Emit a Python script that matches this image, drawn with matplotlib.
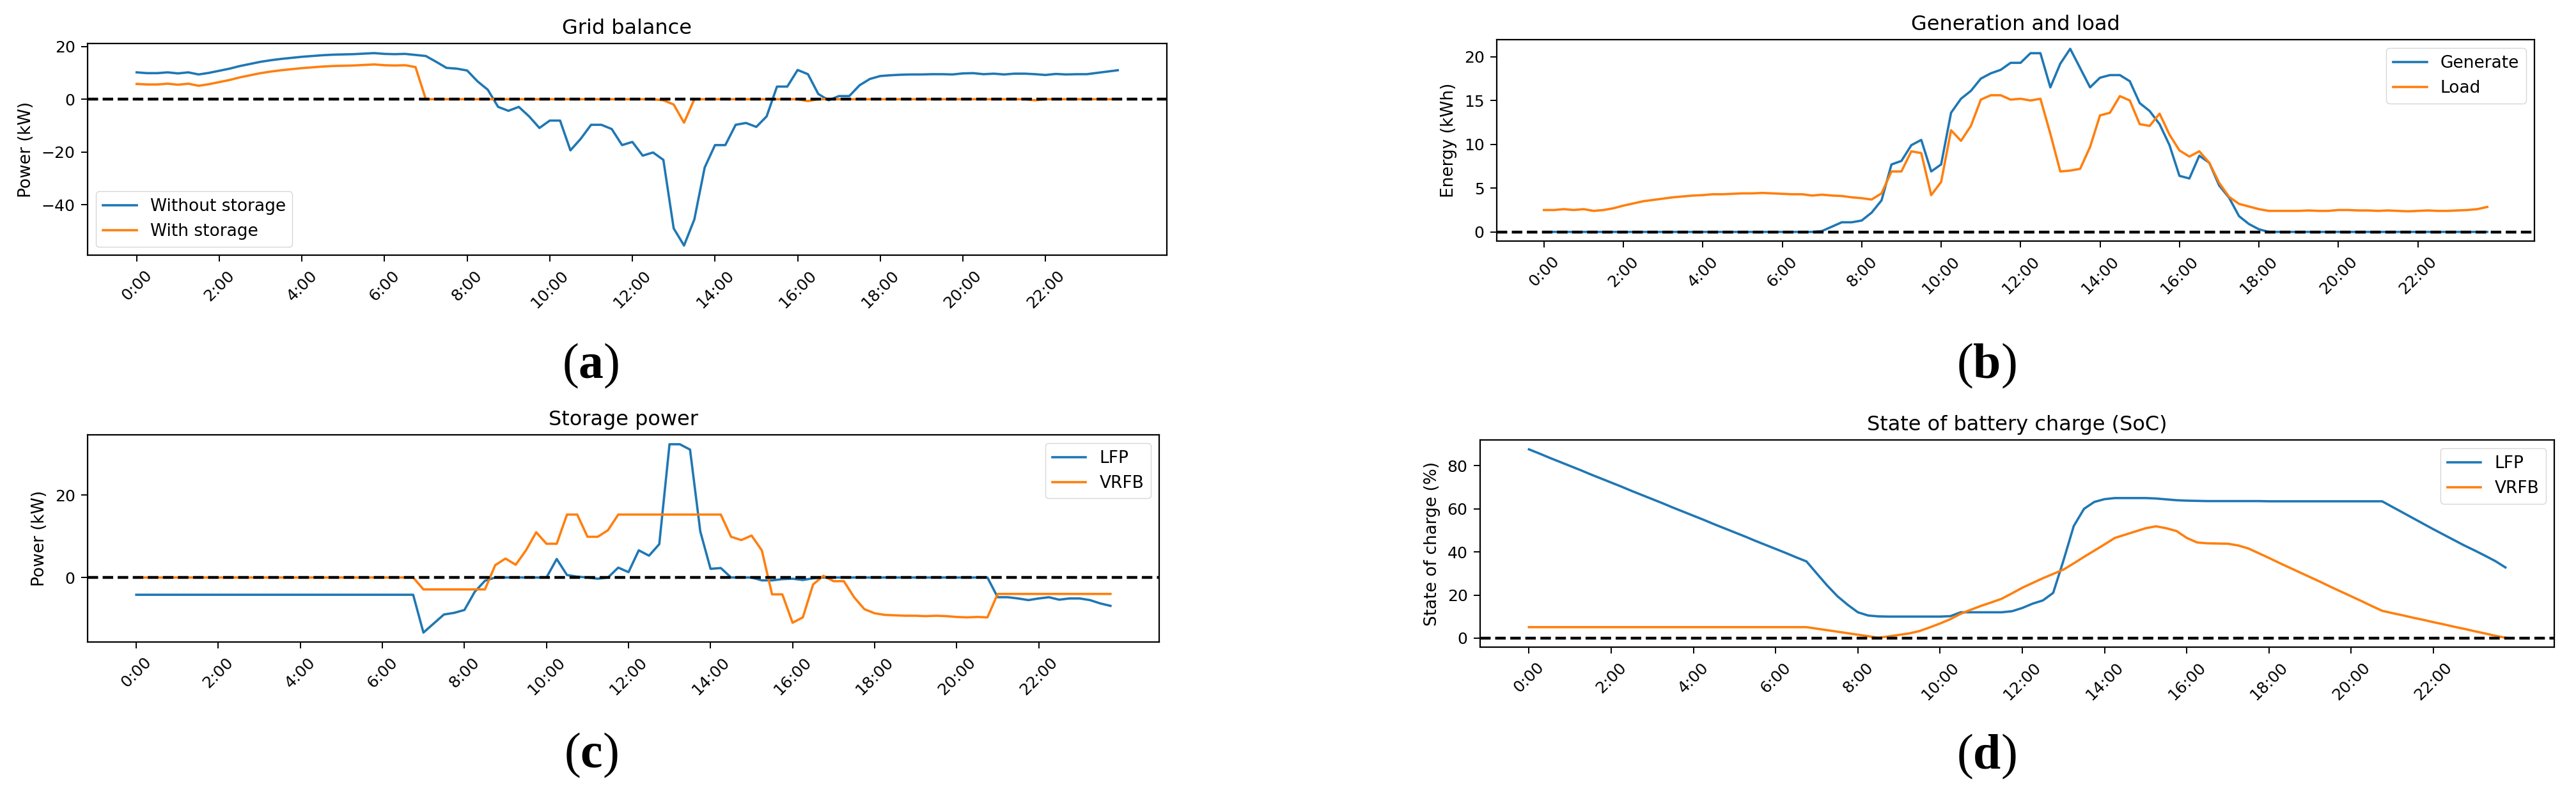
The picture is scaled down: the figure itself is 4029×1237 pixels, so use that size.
import matplotlib
matplotlib.use("Agg")
import matplotlib.pyplot as plt

plt.rcParams['font.family'] = ['DejaVu Sans']
plt.rcParams['mathtext.fontset'] = 'custom'
plt.rcParams['mathtext.rm'] = 'Liberation Serif'
plt.rcParams['mathtext.bf'] = 'Liberation Serif:bold'

# ---------------- data (96 quarter-hour steps) ----------------
time_labels = ["0:00", "2:00", "4:00", "6:00", "8:00", "10:00",
               "12:00", "14:00", "16:00", "18:00", "20:00", "22:00"]

# (a) Grid balance
grid_without = [10.2, 9.9, 9.9, 10.2, 9.8, 10.2, 9.4, 10.0, 10.8, 11.6,
                12.6, 13.4, 14.2, 14.8, 15.3, 15.7, 16.1, 16.4, 16.7, 16.9,
                17.0, 17.1, 17.3, 17.5, 17.2, 17.1, 17.2, 16.8, 16.4, 14.2,
                11.9, 11.6, 10.9, 6.8, 3.6, -2.9, -4.4, -2.9, -6.5, -10.9,
                -8.1, -8.1, -19.4, -15.0, -9.7, -9.7, -11.3, -17.4, -16.2, -21.4,
                -20.2, -23.0, -49.0, -55.5, -45.6, -25.9, -17.4, -17.4, -9.7, -9.0,
                -10.5, -6.5, 4.8, 4.8, 11.1, 9.5, 2.0, -0.4, 1.2, 1.2,
                5.3, 7.7, 8.8, 9.1, 9.3, 9.4, 9.4, 9.5, 9.5, 9.4,
                9.8, 9.9, 9.5, 9.7, 9.4, 9.7, 9.7, 9.5, 9.2, 9.6,
                9.4, 9.5, 9.5, 10.0, 10.5, 11.0]
grid_with = [5.8, 5.6, 5.6, 5.9, 5.5, 5.9, 5.1, 5.7, 6.5, 7.3,
             8.3, 9.1, 9.9, 10.5, 11.0, 11.4, 11.8, 12.1, 12.4, 12.6,
             12.7, 12.8, 13.0, 13.2, 12.9, 12.8, 12.9, 12.2, 0.0, 0.0,
             0.0, 0.0, 0.0, 0.0, 0.0, 0.0, 0.0, 0.0, 0.0, 0.0,
             0.0, 0.0, 0.0, 0.0, 0.0, 0.0, 0.0, 0.0, 0.0, 0.0,
             0.0, -0.4, -2.0, -8.9, 0.0, 0.0, 0.0, 0.0, 0.0, 0.0,
             0.0, 0.0, 0.0, 0.0, 0.0, -0.7, 0.0, 0.0, 0.0, 0.0,
             0.0, 0.0, 0.0, 0.0, 0.0, 0.0, 0.0, 0.0, 0.0, 0.0,
             0.0, 0.0, 0.0, 0.0, 0.0, 0.0, 0.0, -0.4, 0.0, 0.0,
             0.0, 0.0, 0.0, 0.0, 0.0, 0.0]

# (b) Generation and load
generate = [0.0, 0.0, 0.0, 0.0, 0.0, 0.0, 0.0, 0.0, 0.0, 0.0,
            0.0, 0.0, 0.0, 0.0, 0.0, 0.0, 0.0, 0.0, 0.0, 0.0,
            0.0, 0.0, 0.0, 0.0, 0.0, 0.0, 0.0, 0.0, 0.1, 0.6,
            1.1, 1.1, 1.3, 2.2, 3.6, 7.7, 8.1, 9.9, 10.5, 6.9,
            7.7, 13.6, 15.2, 16.1, 17.5, 18.1, 18.5, 19.3, 19.3, 20.4,
            20.4, 16.5, 19.2, 20.9, 18.7, 16.5, 17.6, 17.9, 17.9, 17.2,
            14.7, 13.8, 12.3, 9.9, 6.4, 6.1, 8.7, 7.9, 5.3, 3.9,
            1.8, 0.9, 0.3, 0.0, 0.0, 0.0, 0.0, 0.0, 0.0, 0.0,
            0.0, 0.0, 0.0, 0.0, 0.0, 0.0, 0.0, 0.0, 0.0, 0.0,
            0.0, 0.0, 0.0, 0.0, 0.0, 0.0]
load = [2.5, 2.5, 2.6, 2.5, 2.6, 2.4, 2.5, 2.7, 3.0, 3.25,
        3.5, 3.65, 3.8, 3.95, 4.05, 4.15, 4.2, 4.3, 4.3, 4.35,
        4.4, 4.4, 4.45, 4.4, 4.35, 4.3, 4.3, 4.15, 4.25, 4.15,
        4.1, 3.95, 3.85, 3.7, 4.4, 6.9, 6.9, 9.2, 9.0, 4.2,
        5.7, 11.6, 10.4, 12.1, 15.1, 15.6, 15.6, 15.1, 15.2, 15.0,
        15.2, 11.2, 6.9, 7.0, 7.2, 9.7, 13.3, 13.6, 15.5, 15.0,
        12.3, 12.1, 13.5, 11.1, 9.3, 8.6, 9.2, 7.9, 5.6, 4.0,
        3.2, 2.9, 2.6, 2.4, 2.4, 2.4, 2.4, 2.45, 2.4, 2.4,
        2.5, 2.5, 2.45, 2.45, 2.4, 2.45, 2.4, 2.35, 2.4, 2.45,
        2.4, 2.4, 2.45, 2.5, 2.6, 2.85]

# (c) Storage power
power_lfp = [-4.2, -4.2, -4.2, -4.2, -4.2, -4.2, -4.2, -4.2, -4.2, -4.2,
             -4.2, -4.2, -4.2, -4.2, -4.2, -4.2, -4.2, -4.2, -4.2, -4.2,
             -4.2, -4.2, -4.2, -4.2, -4.2, -4.2, -4.2, -4.2, -13.4, -11.2,
             -9.0, -8.6, -7.9, -3.5, -0.8, 0.0, 0.0, 0.0, 0.0, 0.0,
             0.0, 4.5, 0.6, 0.2, 0.0, -0.3, 0.0, 2.4, 1.3, 6.6,
             5.3, 8.1, 32.4, 32.4, 31.1, 11.2, 2.1, 2.3, 0.0, 0.0,
             0.0, -0.7, -0.7, -0.4, -0.3, -0.6, -0.2, 0.0, 0.0, 0.0,
             0.0, 0.0, 0.0, 0.0, 0.0, 0.0, 0.0, 0.0, 0.0, 0.0,
             0.0, 0.0, 0.0, 0.0, -4.8, -4.8, -5.1, -5.5, -5.1, -4.8,
             -5.4, -5.1, -5.1, -5.5, -6.3, -6.9]
power_vrfb = [0.0, 0.0, 0.0, 0.0, 0.0, 0.0, 0.0, 0.0, 0.0, 0.0,
              0.0, 0.0, 0.0, 0.0, 0.0, 0.0, 0.0, 0.0, 0.0, 0.0,
              0.0, 0.0, 0.0, 0.0, 0.0, 0.0, 0.0, 0.0, -2.9, -2.9,
              -2.9, -2.9, -2.9, -2.9, -2.9, 3.0, 4.6, 3.1, 6.6, 11.0,
              8.2, 8.2, 15.3, 15.3, 9.9, 9.9, 11.5, 15.3, 15.3, 15.3,
              15.3, 15.3, 15.3, 15.3, 15.3, 15.3, 15.3, 15.3, 9.9, 9.1,
              10.2, 6.6, -4.1, -4.1, -11.0, -9.7, -1.7, 0.4, -0.9, -0.9,
              -4.8, -7.7, -8.7, -9.1, -9.2, -9.3, -9.3, -9.4, -9.3, -9.4,
              -9.6, -9.7, -9.6, -9.7, -4.0, -4.0, -4.0, -4.0, -4.0, -4.0,
              -4.0, -4.0, -4.0, -4.0, -4.0, -4.0]

# (d) State of charge
soc_lfp = [87.6, 85.7, 83.7, 81.8, 79.9, 78.0, 76.0, 74.1, 72.2, 70.3,
           68.3, 66.4, 64.5, 62.6, 60.6, 58.7, 56.8, 54.9, 52.9, 51.0,
           49.1, 47.2, 45.2, 43.3, 41.4, 39.5, 37.5, 35.6, 30.0, 24.5,
           19.5, 15.5, 12.0, 10.5, 10.1, 10.0, 10.0, 10.0, 10.0, 10.0,
           10.0, 10.2, 12.0, 12.0, 12.0, 12.0, 12.0, 12.5, 14.0, 16.0,
           17.5, 21.0, 36.0, 52.0, 60.0, 63.2, 64.5, 65.0, 65.0, 65.0,
           65.0, 64.8, 64.4, 64.0, 63.8, 63.7, 63.6, 63.6, 63.6, 63.6,
           63.6, 63.6, 63.5, 63.5, 63.5, 63.5, 63.5, 63.5, 63.5, 63.5,
           63.5, 63.5, 63.5, 63.5, 60.9, 58.3, 55.7, 53.1, 50.5, 48.0,
           45.5, 43.0, 40.7, 38.3, 35.8, 32.8]
soc_vrfb = [5.1, 5.1, 5.1, 5.1, 5.1, 5.1, 5.1, 5.1, 5.1, 5.1,
            5.1, 5.1, 5.1, 5.1, 5.1, 5.1, 5.1, 5.1, 5.1, 5.1,
            5.1, 5.1, 5.1, 5.1, 5.1, 5.1, 5.1, 5.1, 4.4, 3.7,
            3.0, 2.3, 1.6, 0.9, 0.2, 0.8, 1.5, 2.2, 3.3, 5.0,
            6.8, 8.8, 11.3, 13.2, 15.0, 16.6, 18.3, 20.8, 23.4, 25.6,
            27.8, 29.8, 31.8, 34.7, 37.7, 40.6, 43.5, 46.5, 48.0, 49.5,
            51.0, 51.9, 51.0, 49.7, 46.5, 44.4, 44.0, 43.9, 43.8, 43.0,
            41.6, 39.4, 37.2, 34.9, 32.7, 30.5, 28.3, 26.1, 23.8, 21.6,
            19.4, 17.2, 14.9, 12.7, 11.6, 10.6, 9.5, 8.5, 7.4, 6.4,
            5.3, 4.3, 3.2, 2.2, 1.1, 0.2]

# ---------------- figure ----------------
W, H = 4030, 1237
fig = plt.figure(figsize=(W / 100, H / 100), dpi=100)

BLUE = '#1f77b4'
ORANGE = '#ff7f0e'
LW = 2.6
FS_TICK = 18
FS_LEG = 19
FS_TITLE = 23
FS_LAB = 19


def box(left, right, top, bottom):
    return [left / W, 1 - bottom / H, (right - left) / W, (bottom - top) / H]


panels = [
    dict(rect=box(137, 1825, 68, 399), title="Grid balance", ylabel="Power (kW)",
         s1=grid_without, s2=grid_with, l1="Without storage", l2="With storage",
         loc="lower left", yticks=[-40, -20, 0, 20], cap="a", capxy=(924, 572)),
    dict(rect=box(2341, 3964, 62, 377), title="Generation and load", ylabel="Energy (kWh)",
         s1=generate, s2=load, l1="Generate", l2="Load",
         loc="upper right", yticks=[0, 5, 10, 15, 20], cap="b", capxy=(3107, 572)),
    dict(rect=box(137, 1813, 680, 1004), title="Storage power", ylabel="Power (kW)",
         s1=power_lfp, s2=power_vrfb, l1="LFP", l2="VRFB",
         loc="upper right", yticks=[0, 20], cap="c", capxy=(924, 1181)),
    dict(rect=box(2315, 3995, 688, 1012), title="State of battery charge (SoC)",
         ylabel="State of charge (%)",
         s1=soc_lfp, s2=soc_vrfb, l1="LFP", l2="VRFB",
         loc="upper right", yticks=[0, 20, 40, 60, 80], cap="d", capxy=(3107, 1183)),
]

for p in panels:
    ax = fig.add_axes(p["rect"])
    x = list(range(len(p["s1"])))
    ax.plot(x, p["s1"], color=BLUE, lw=LW, label=p["l1"])
    ax.plot(x, p["s2"], color=ORANGE, lw=LW, label=p["l2"])
    ax.axhline(0, color='black', ls='--', lw=3.2)
    ax.set_xticks(list(range(0, 96, 8)))
    ax.set_xticklabels(time_labels, rotation=45, ha='center')
    ax.set_yticks(p["yticks"])
    ax.tick_params(labelsize=FS_TICK, length=7, width=1.4, pad=7)
    for sp in ax.spines.values():
        sp.set_linewidth(1.6)
    ax.set_title(p["title"], fontsize=FS_TITLE, pad=11)
    ax.set_ylabel(p["ylabel"], fontsize=FS_LAB, labelpad=8)
    ax.legend(loc=p["loc"], fontsize=FS_LEG)
    fig.text(p["capxy"][0] / W, 1 - p["capxy"][1] / H,
             r"$(\mathbf{%s})$" % p["cap"], fontsize=56, ha='center', va='center')

fig.savefig("out.png", dpi=100)
